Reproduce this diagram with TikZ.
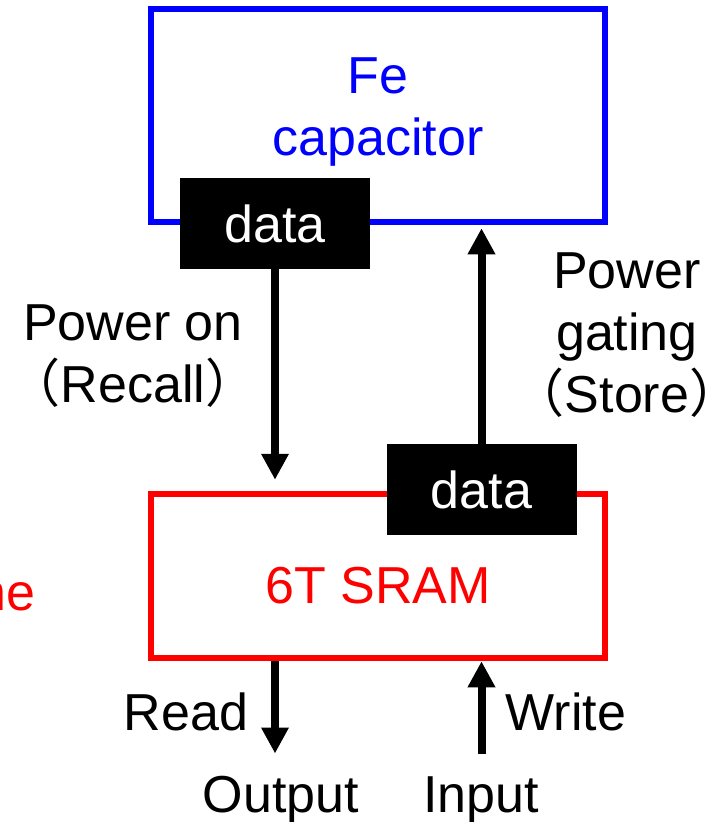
\documentclass[tikz,border=0pt]{standalone}
\usepackage{fontspec}
\setmainfont{Liberation Sans}
\newfontfamily\cjk{Noto Sans CJK JP}
\usetikzlibrary{arrows.meta,positioning}

\begin{document}
\begin{tikzpicture}[
  x=1pt, y=-1pt,
  font=\fontsize{52}{62}\selectfont,
  box/.style={draw, line width=6.5pt, minimum width=454pt, inner sep=0pt},
  databox/.style={fill=black, text=white, minimum width=190pt, minimum height=91pt, inner sep=0pt},
  lbl/.style={align=center, inner sep=0pt},
  a/.style={-{Triangle[length=26pt,width=26pt]}, line width=8pt}
]
\useasboundingbox (0,0) rectangle (720,822);

\node[box, draw=blue, minimum height=213pt] (fecap) at (378,115.5) {};
\node[box, draw=red, minimum height=164pt] (sram) at (378,576) {};

\node[lbl, text=blue, anchor=north] (fetxt) at (378,58) {Fe\\capacitor};
\node[lbl, text=red, anchor=base] (sramtxt) at (378,603) {6T SRAM};
\node[lbl, text=red, anchor=base east] (cuttxt) at (36,610) {ne};

\node[databox] (dataF) at (275,223.5) {data};
\node[databox] (dataS) at (481.5,489.5) {data};

\node[lbl, anchor=north] (recall) at (133,305) {Power on\\{\cjk （}Recall{\cjk ）}};
\node[lbl, anchor=north] (store) at (627,253) {Power\\gating\\{\cjk （}Store{\cjk ）}};

\node[lbl, anchor=base] (readtxt) at (186,730) {Read};
\node[lbl, anchor=base] (writetxt) at (566,730) {Write};
\node[lbl, anchor=base] (outtxt) at (281,812) {Output};
\node[lbl, anchor=base] (intxt) at (481,812) {Input};

\draw[a, shorten >=11pt] (dataF) -- (dataF |- sram.north);
\draw[a, shorten >=3pt] (dataS) -- (dataS |- fecap.south);
\draw[a, shorten >=22pt] (sram.south -| dataF) -- (outtxt.north -| dataF);
\draw[a, shorten <=22pt] (intxt.north -| dataS) -- (sram.south -| dataS);
\end{tikzpicture}
\end{document}
